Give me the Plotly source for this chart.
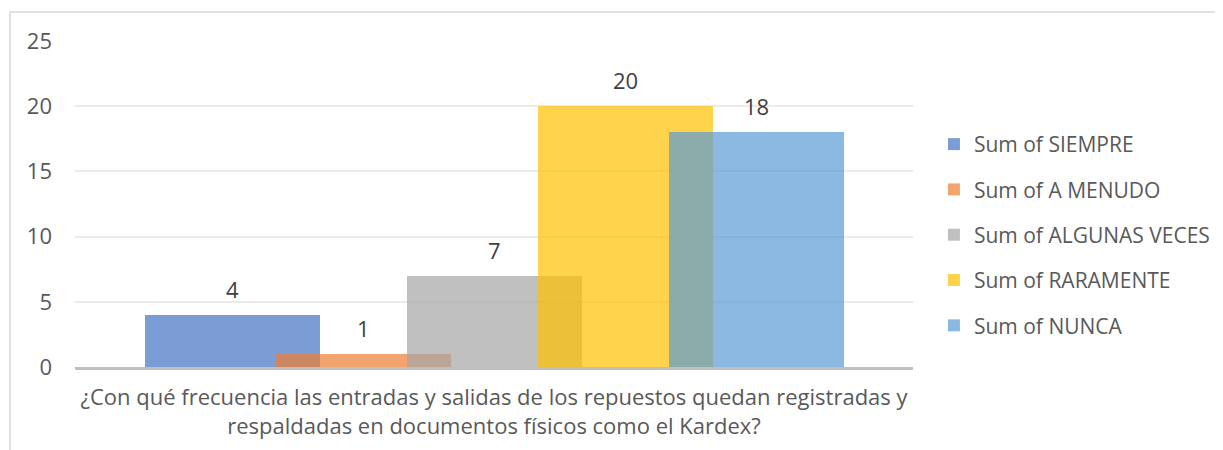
import plotly.graph_objects as go

# Dados
categoria = ["¿Con qué frecuencia las entradas y salidas de los repuestos quedan registradas y<br>respaldadas en documentos físicos como el Kardex?"]
series = ["Sum of SIEMPRE", "Sum of A MENUDO", "Sum of ALGUNAS VECES", "Sum of RARAMENTE", "Sum of NUNCA"]
valores = [4, 1, 7, 20, 18]
cores = ["rgba(68,114,196,0.7)", "rgba(237,125,49,0.7)", "rgba(165,165,165,0.7)",
         "rgba(255,192,0,0.7)", "rgba(91,155,213,0.7)"]

# Estilo das barras (sobreposição no estilo Excel)
largura = 0.209
passo = 0.1563
inicio = -0.4165

FONTE = "Open Sans"
COR_TEXTO = "#595959"

fig = go.Figure()
for i, (nome, v, cor) in enumerate(zip(series, valores, cores)):
    fig.add_trace(
        go.Bar(
            x=categoria,
            y=[v],
            name=nome,
            width=largura,
            offset=inicio + i * passo,
            marker=dict(color=cor, line=dict(width=0)),
            legendgroup=nome,
        )
    )
    # Rótulo de dados acima de cada barra
    fig.add_annotation(
        x=inicio + i * passo + largura / 2,
        y=v,
        text=str(v),
        showarrow=False,
        yanchor="bottom",
        yshift=9,
        font=dict(size=22, color="#404040", family=FONTE),
    )

# Layout (compensa a margem de 8px do body do html)
fig.update_layout(
    barmode="overlay",
    width=1223,
    height=450,
    margin=dict(l=67, r=318, t=33, b=91),
    paper_bgcolor="white",
    plot_bgcolor="white",
    font=dict(family=FONTE, size=21, color=COR_TEXTO),
    showlegend=True,
    legend=dict(
        x=1.025,
        y=0.405,
        xanchor="left",
        yanchor="middle",
        traceorder="grouped",
        tracegroupgap=15,
        font=dict(size=21, color=COR_TEXTO),
        itemwidth=30,
    ),
    bargap=0,
)

fig.update_yaxes(
    range=[0, 25],
    dtick=5,
    showgrid=True,
    gridcolor="#EBEBEB",
    gridwidth=1.5,
    zeroline=False,
    showline=False,
    ticklabelstandoff=22,
    tickfont=dict(size=22, color=COR_TEXTO),
)
fig.update_xaxes(
    range=[-0.5, 0.5],
    showline=True,
    linecolor="#BFBFBF",
    linewidth=2.5,
    showgrid=False,
    tickfont=dict(size=22, color=COR_TEXTO),
    ticklabelstandoff=9,
)

# Borda da área do gráfico
fig.add_shape(
    type="rect",
    xref="paper",
    yref="paper",
    x0=-0.0776,
    x1=1.6,
    y0=-0.6,
    y1=1.089,
    line=dict(color="#D9D9D9", width=1.5),
    layer="below",
)

fig.write_html("out.html")
